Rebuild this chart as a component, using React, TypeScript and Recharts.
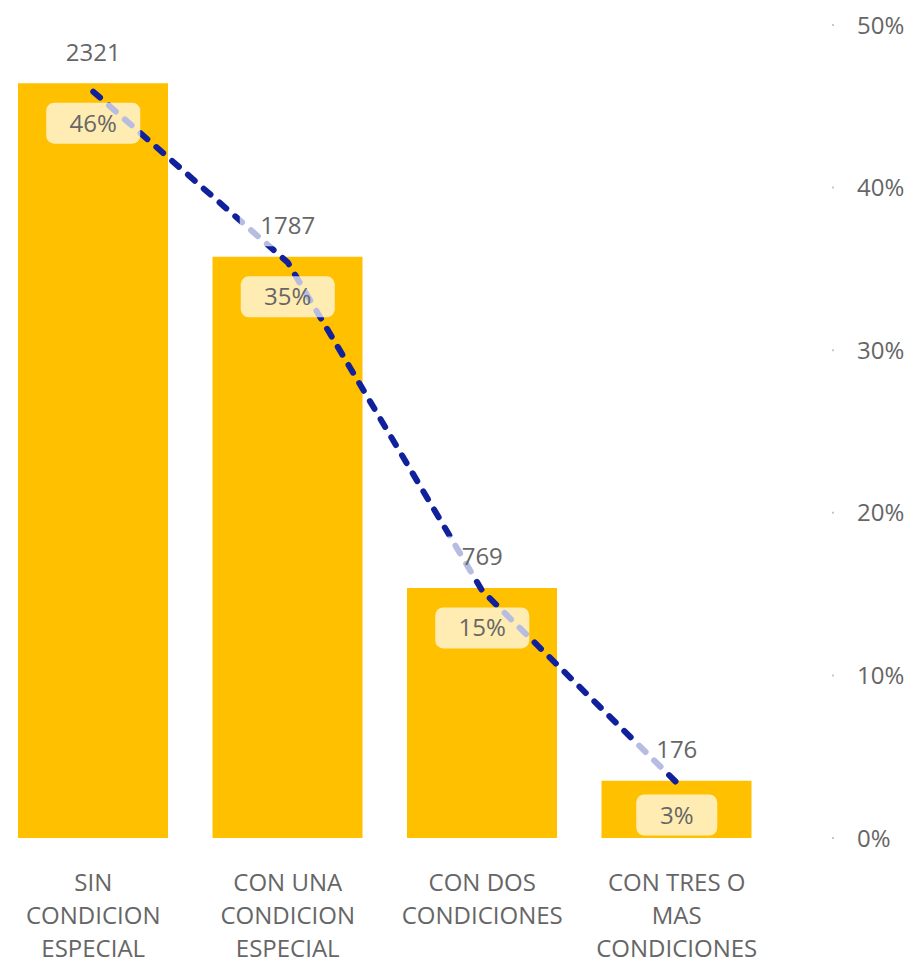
import * as React from "react";
import {
  Bar,
  ComposedChart,
  LabelList,
  Line,
  XAxis,
  YAxis,
} from "recharts";

const categories = [
  "SIN CONDICION ESPECIAL",
  "CON UNA CONDICION ESPECIAL",
  "CON DOS CONDICIONES",
  "CON TRES O MAS CONDICIONES",
];
const counts = [2321, 1787, 769, 176];
const shares = [0.459, 0.354, 0.152, 0.034];
const shareTicks = [0, 0.1, 0.2, 0.3, 0.4, 0.5];

const data = categories.map((name, i) => ({
  name,
  count: counts[i],
  pct: shares[i],
}));

const WIDTH = 913;
const HEIGHT = 960;
const X_AXIS_H = 122;
const PLOT_BOTTOM = HEIGHT - X_AXIS_H;

const FONT = "'Segoe UI', 'Open Sans', sans-serif";
const TEXT = "#666666";
const BAR = "#FFC000";
const LINE = "#10219B";

function wrap(label: string, max = 11) {
  const lines: string[] = [];
  let cur = "";
  for (const w of label.split(" ")) {
    const next = cur ? `${cur} ${w}` : w;
    if (next.length > max && cur) {
      lines.push(cur);
      cur = w;
    } else {
      cur = next;
    }
  }
  if (cur) lines.push(cur);
  return lines;
}

function CategoryTick(props: any) {
  const { x, payload } = props;
  const lines = wrap(String(payload.value));
  return (
    <text
      x={x}
      y={PLOT_BOTTOM + 44}
      textAnchor="middle"
      fill={TEXT}
      fontSize={24}
      fontFamily={FONT}
    >
      {lines.map((l, i) => (
        <tspan key={i} x={x} dy={i === 0 ? "0.355em" : 33}>
          {l}
        </tspan>
      ))}
    </text>
  );
}

function boxWidth(text: string) {
  const digits = text.replace("%", "").length;
  return digits * 13 + (text.includes("%") ? 24 : 0) + 44;
}

function LabelBox({ cx, cy, text }: { cx: number; cy: number; text: string }) {
  const w = boxWidth(text);
  return (
    <g>
      <rect
        x={cx - w / 2}
        y={cy - 20.5}
        width={w}
        height={41}
        rx={8}
        fill="rgba(255,255,255,0.7)"
      />
      <text
        x={cx}
        y={cy}
        dy="0.355em"
        textAnchor="middle"
        fill={TEXT}
        fontSize={24}
        fontFamily={FONT}
      >
        {text}
      </text>
    </g>
  );
}

function CountLabel(props: any) {
  const x = props.x ?? props.viewBox?.x;
  const y = props.y ?? props.viewBox?.y;
  return <LabelBox cx={x} cy={y - 31} text={String(props.value)} />;
}

function ShareLabel(props: any) {
  const x = props.x ?? props.viewBox?.x;
  const y = props.y ?? props.viewBox?.y;
  const cy = Math.min(y + 40, PLOT_BOTTOM - 23);
  return <LabelBox cx={x} cy={cy} text={`${Math.round(props.value * 100)}%`} />;
}

export default function App() {
  return (
    <div style={{ marginLeft: -4 }}>
      <style>{`body{margin:0;}`}</style>
      <ComposedChart
        width={WIDTH}
        height={HEIGHT}
        data={data}
        margin={{ top: 25, right: 0, bottom: 0, left: 0 }}
      >
        <XAxis
          dataKey="name"
          axisLine={false}
          tickLine={false}
          tickSize={0}
          height={X_AXIS_H}
          padding={{ left: 0, right: 58 }}
          interval={0}
          tick={<CategoryTick />}
        />
        <YAxis yAxisId="left" hide domain={[0, 2500]} />
        <YAxis
          yAxisId="right"
          orientation="right"
          width={77}
          domain={[0, 0.5]}
          ticks={shareTicks}
          axisLine={false}
          tickSize={2}
          tickMargin={23}
          tickLine={{ stroke: "#c8c8c8", strokeWidth: 2 }}
          tickFormatter={(v: number) => `${Math.round(v * 100)}%`}
          tick={{ fill: TEXT, fontSize: 24, fontFamily: FONT }}
        />
        <Bar
          yAxisId="left"
          dataKey="count"
          fill={BAR}
          barSize={150}
          isAnimationActive={false}
        />
        <Line
          yAxisId="right"
          dataKey="pct"
          type="linear"
          stroke={LINE}
          strokeWidth={6}
          strokeDasharray="9 12"
          strokeLinecap="round"
          dot={false}
          activeDot={false}
          isAnimationActive={false}
        />
        <Line
          yAxisId="left"
          dataKey="count"
          stroke="none"
          dot={false}
          activeDot={false}
          isAnimationActive={false}
        >
          <LabelList dataKey="count" content={<CountLabel />} />
          <LabelList dataKey="pct" content={<ShareLabel />} />
        </Line>
      </ComposedChart>
    </div>
  );
}
